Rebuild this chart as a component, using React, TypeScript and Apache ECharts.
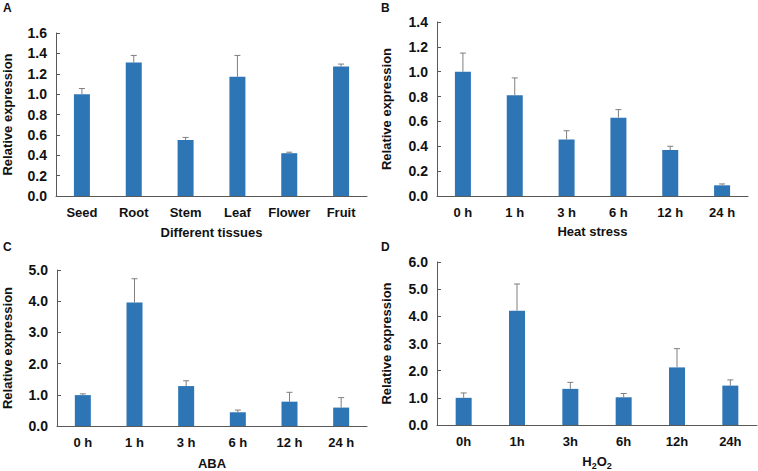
import React, { useEffect, useRef } from "react";
import * as echarts from "echarts";

const tissueCats = ["Seed", "Root", "Stem", "Leaf", "Flower", "Fruit"];
const tissueVals = [1.0, 1.31, 0.55, 1.17, 0.42, 1.27];
const tissueErr = [0.055, 0.07, 0.025, 0.21, 0.01, 0.025];

const timeCats = ["0 h", "1 h", "3 h", "6 h", "12 h", "24 h"];
const heatVals = [1.0, 0.81, 0.455, 0.63, 0.37, 0.086];
const heatErr = [0.15, 0.14, 0.07, 0.065, 0.03, 0.011];

const abaVals = [0.99, 3.96, 1.28, 0.44, 0.78, 0.59];
const abaErr = [0.04, 0.76, 0.17, 0.07, 0.3, 0.32];

const h2o2Cats = ["0h", "1h", "3h", "6h", "12h", "24h"];
const h2o2Vals = [1.0, 4.21, 1.33, 1.02, 2.12, 1.45];
const h2o2Err = [0.18, 0.98, 0.24, 0.14, 0.69, 0.21];

const FONT = "Liberation Sans, Arial, sans-serif";
const BAR = "#2E75B6";
const AXIS = "#595959";
const ERR = "#7F7F7F";

const panels = [
  { letter: "A", cats: tissueCats, vals: tissueVals, err: tissueErr, max: 1.6, interval: 0.2, name: "Different tissues", grid: { left: 56, top: 33, width: 311, height: 163 }, xGap: 30, yGap: 42, lx: 3, ly: 2 },
  { letter: "B", cats: timeCats, vals: heatVals, err: heatErr, max: 1.4, interval: 0.2, name: "Heat stress", grid: { left: 437, top: 22, width: 311, height: 174 }, xGap: 29, yGap: 44, lx: 381, ly: 2 },
  { letter: "C", cats: timeCats, vals: abaVals, err: abaErr, max: 5, interval: 1, name: "ABA", grid: { left: 56, top: 270, width: 311, height: 158 }, xGap: 31, yGap: 43, lx: 3, ly: 241 },
  { letter: "D", cats: h2o2Cats, vals: h2o2Vals, err: h2o2Err, max: 6, interval: 1, name: "H{sub|2}O{sub|2}", grid: { left: 437, top: 262, width: 320, height: 166 }, xGap: 28, yGap: 44, lx: 381, ly: 241 },
];

export default function App() {
  const ref = useRef<HTMLDivElement>(null);
  useEffect(() => {
    if (!ref.current) return;
    const chart = echarts.init(ref.current, null, { renderer: "svg" });
    const grids: any[] = [];
    const xAxes: any[] = [];
    const yAxes: any[] = [];
    const series: any[] = [];
    const graphics: any[] = [];
    panels.forEach((p, i) => {
      grids.push({ ...p.grid, containLabel: false });
      xAxes.push({
        type: "category",
        gridIndex: i,
        data: p.cats,
        name: p.name,
        nameLocation: "middle",
        nameGap: p.xGap,
        nameTextStyle: {
          fontFamily: FONT,
          fontWeight: "bold",
          fontSize: 13,
          color: "#111",
          rich: {
            sub: { fontSize: 9, fontWeight: "bold", fontFamily: FONT, color: "#111", verticalAlign: "bottom", padding: [8, 0, 0, 0] },
          },
        },
        axisLine: { lineStyle: { color: AXIS, width: 1 } },
        axisTick: { show: false },
        axisLabel: { interval: 0, fontFamily: FONT, fontWeight: "bold", fontSize: 13, color: "#111", margin: 10 },
        splitLine: { show: false },
      });
      yAxes.push({
        type: "value",
        gridIndex: i,
        min: 0,
        max: p.max,
        interval: p.interval,
        name: "Relative expression",
        nameLocation: "middle",
        nameGap: p.yGap,
        nameTextStyle: { fontFamily: FONT, fontWeight: "bold", fontSize: 13, color: "#111" },
        axisLine: { show: true, lineStyle: { color: AXIS, width: 1 } },
        axisTick: { show: true, inside: true, length: 4, lineStyle: { color: AXIS } },
        axisLabel: { fontFamily: FONT, fontWeight: "bold", fontSize: 14, color: "#111", margin: 9, formatter: (v: number) => v.toFixed(1) },
        splitLine: { show: false },
      });
      series.push({
        type: "bar",
        xAxisIndex: i,
        yAxisIndex: i,
        data: p.vals,
        barWidth: 16,
        itemStyle: { color: BAR },
      });
      series.push({
        type: "custom",
        xAxisIndex: i,
        yAxisIndex: i,
        z: 5,
        data: p.vals.map((v, k) => [k, v, p.err[k]]),
        encode: { x: 0, y: 1 },
        renderItem: (params: any, api: any) => {
          const x = api.value(0);
          const v = api.value(1);
          const e = api.value(2);
          const p0 = api.coord([x, v]);
          const p1 = api.coord([x, v + e]);
          const st = { stroke: ERR, lineWidth: 1 };
          return {
            type: "group",
            children: [
              { type: "line", shape: { x1: p0[0], y1: p0[1], x2: p1[0], y2: p1[1] }, style: st },
              { type: "line", shape: { x1: p1[0] - 3, y1: p1[1], x2: p1[0] + 3, y2: p1[1] }, style: st },
            ],
          };
        },
      });
      graphics.push({
        type: "text",
        left: p.lx,
        top: p.ly,
        style: { text: p.letter, font: `bold 12px ${FONT}`, fill: "#111" },
      });
    });
    chart.setOption({
      animation: false,
      backgroundColor: "#fff",
      grid: grids,
      xAxis: xAxes,
      yAxis: yAxes,
      series,
      graphic: graphics,
    });
    return () => chart.dispose();
  }, []);
  return <div ref={ref} style={{ position: "absolute", left: 0, top: 0, width: 758, height: 471 }} />;
}
